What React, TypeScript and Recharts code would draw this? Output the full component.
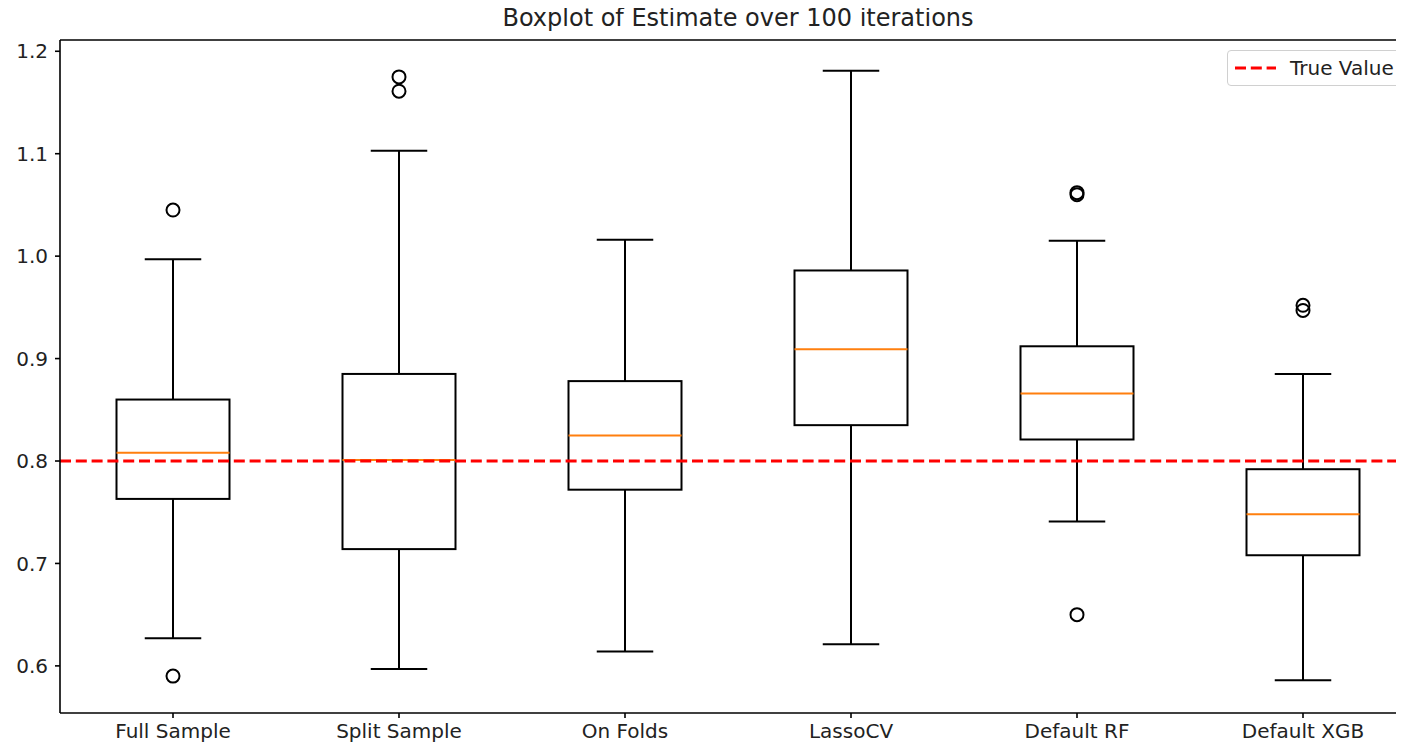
import { ComposedChart, Bar, Line, XAxis, YAxis, ReferenceLine } from 'recharts';

const categories = ['Full Sample', 'Split Sample', 'On Folds', 'LassoCV', 'Default RF', 'Default XGB'];
const whiskerLow = [0.627, 0.597, 0.614, 0.621, 0.741, 0.586];
const q1 = [0.763, 0.714, 0.772, 0.835, 0.821, 0.708];
const median = [0.808, 0.801, 0.825, 0.909, 0.866, 0.748];
const q3 = [0.860, 0.885, 0.878, 0.986, 0.912, 0.792];
const whiskerHigh = [0.997, 1.103, 1.016, 1.181, 1.015, 0.885];
const outlierA = [1.045, 1.175, null, null, 1.062, 0.952];
const outlierB = [0.590, 1.161, null, null, 0.650, 0.947];
const outlierC = [null, null, null, null, 1.060, null];
const yTicks = [0.6, 0.7, 0.8, 0.9, 1.0, 1.1, 1.2];
const yDomain = [0.554, 1.211];
const trueValue = 0.8;

const data = categories.map((name, i) => ({
    name,
    low: whiskerLow[i],
    q1: q1[i],
    median: median[i],
    q3: q3[i],
    high: whiskerHigh[i],
    outA: outlierA[i],
    outB: outlierB[i],
    outC: outlierC[i],
}));

const FONT = 'DejaVu Sans, sans-serif';

// draws whiskers, caps, box and median inside the bar spanned by [low, high]
const BoxShape = (props: any) => {
    const { x, y, width, height, payload } = props;
    const { low, high } = payload;
    const toY = (v: number) => y + ((high - v) / (high - low)) * height;
    const cx = x + width / 2;
    const capHalf = width / 4;
    const yQ1 = toY(payload.q1);
    const yQ3 = toY(payload.q3);
    const yMed = toY(payload.median);
    const yLow = toY(low);
    const yHigh = toY(high);
    return (
        <g>
            <line x1={cx} x2={cx} y1={yHigh} y2={yQ3} stroke="#000" strokeWidth={2} />
            <line x1={cx} x2={cx} y1={yQ1} y2={yLow} stroke="#000" strokeWidth={2} />
            <line x1={cx - capHalf} x2={cx + capHalf} y1={yHigh} y2={yHigh} stroke="#000" strokeWidth={2} />
            <line x1={cx - capHalf} x2={cx + capHalf} y1={yLow} y2={yLow} stroke="#000" strokeWidth={2} />
            <rect x={x} y={yQ3} width={width} height={yQ1 - yQ3} fill="none" stroke="#000" strokeWidth={2} />
            <line x1={x} x2={x + width} y1={yMed} y2={yMed} stroke="#ff7f0e" strokeWidth={2} />
        </g>
    );
};

const outlierDot = { r: 6.5, fill: 'none', stroke: '#000', strokeWidth: 2 };

export default function App() {
    return (
        <div style={{ margin: -8, width: 1404, height: 750, overflow: 'hidden', position: 'relative', background: '#fff' }}>
            <div
                style={{
                    position: 'absolute',
                    top: 4,
                    left: 60,
                    width: 1356,
                    textAlign: 'center',
                    fontFamily: FONT,
                    fontSize: 24,
                    color: '#222',
                }}
            >
                Boxplot of Estimate over 100 iterations
            </div>
            <ComposedChart
                width={1420}
                height={750}
                data={data}
                margin={{ top: 40, right: 4, bottom: 0, left: 0 }}
                barCategoryGap="25%"
            >
                <XAxis
                    dataKey="name"
                    height={37}
                    tickSize={5}
                    tickMargin={6}
                    axisLine={{ stroke: '#000', strokeWidth: 1.6 }}
                    tickLine={{ stroke: '#000', strokeWidth: 1.6 }}
                    tick={{ fill: '#222', fontSize: 20, fontFamily: FONT }}
                    interval={0}
                />
                <YAxis
                    type="number"
                    domain={yDomain}
                    ticks={yTicks}
                    allowDataOverflow
                    width={60}
                    tickSize={5}
                    tickMargin={7}
                    tickFormatter={(v: number) => v.toFixed(1)}
                    axisLine={{ stroke: '#000', strokeWidth: 1.6 }}
                    tickLine={{ stroke: '#000', strokeWidth: 1.6 }}
                    tick={{ fill: '#222', fontSize: 20, fontFamily: FONT }}
                />
                {/* top spine */}
                <ReferenceLine y={yDomain[1]} stroke="#000" strokeWidth={1.6} />
                <Bar
                    dataKey={(d: any) => [d.low, d.high]}
                    shape={<BoxShape />}
                    isAnimationActive={false}
                />
                <Line dataKey="outA" stroke="none" dot={outlierDot} activeDot={false} isAnimationActive={false} />
                <Line dataKey="outB" stroke="none" dot={outlierDot} activeDot={false} isAnimationActive={false} />
                <Line dataKey="outC" stroke="none" dot={outlierDot} activeDot={false} isAnimationActive={false} />
                <ReferenceLine y={trueValue} stroke="#ff0000" strokeWidth={3} strokeDasharray="11 4.8" />
            </ComposedChart>
            <div
                style={{
                    position: 'absolute',
                    top: 50,
                    left: 1227,
                    width: 180,
                    height: 34,
                    border: '1px solid #d0d0d0',
                    borderRadius: 4,
                    background: '#fff',
                    display: 'flex',
                    alignItems: 'center',
                    fontFamily: FONT,
                    fontSize: 20,
                    color: '#222',
                }}
            >
                <svg width={62} height={20}>
                    <line x1={7} x2={48} y1={10} y2={10} stroke="#ff0000" strokeWidth={3} strokeDasharray="11 4.8" />
                </svg>
                <span>True Value</span>
            </div>
        </div>
    );
}
